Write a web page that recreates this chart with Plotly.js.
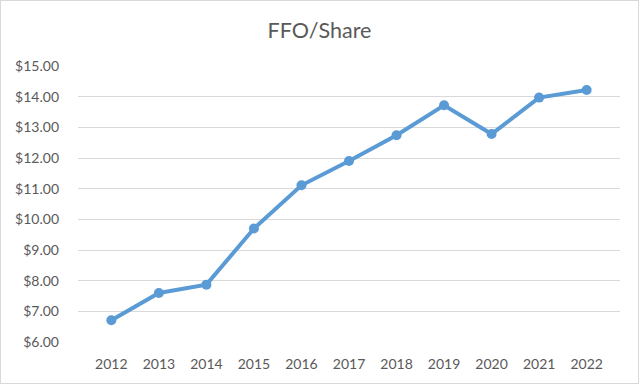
<!DOCTYPE html>
<html><head><meta charset="utf-8">
<script src="https://cdn.plot.ly/plotly-3.0.1.min.js"></script>
<style>
html,body{margin:0;padding:0;background:#fff;}
#wrap{width:639px;height:384px;box-sizing:border-box;border:1px solid #D9D9D9;}
#chart{width:637px;height:382px;}
</style></head>
<body><div id="wrap"><div id="chart"></div></div>
<script>
const years = ["2012","2013","2014","2015","2016","2017","2018","2019","2020","2021","2022"];
const ffoPerShare = [6.71, 7.60, 7.87, 9.70, 11.11, 11.90, 12.74, 13.72, 12.78, 13.97, 14.22];
const yTickVals = [6,7,8,9,10,11,12,13,14,15];

Plotly.newPlot('chart', [{
  type: 'scatter', mode: 'lines+markers',
  x: years, y: ffoPerShare,
  line: {color: '#5B9BD5', width: 4},
  marker: {color: '#5B9BD5', size: 10},
  hoverinfo: 'skip'
}], {
  width: 637, height: 382,
  margin: {l: 77, r: 18, t: 65, b: 41},
  paper_bgcolor: '#fff', plot_bgcolor: '#fff',
  font: {family: 'Lato, sans-serif', color: '#595959', size: 14},
  title: {text: 'FFO/Share', font: {size: 21.5, color: '#595959', family: 'Lato, sans-serif'}, x: 0.5, xanchor: 'center', y: 0.923, yanchor: 'middle'},
  showlegend: false,
  xaxis: {type: 'category', showgrid: false, zeroline: false, showline: false, ticks: '', tickfont: {size: 14, color: '#595959'}, ticklabelstandoff: 12},
  yaxis: {range: [6, 15], tickvals: yTickVals, tickformat: '$.2f', showgrid: true, gridcolor: '#D9D9D9', gridwidth: 1, zeroline: false, showline: false, ticks: '', tickfont: {size: 14, color: '#595959'}, ticklabelstandoff: 18}
}, {displayModeBar: false, staticPlot: true});
</script></body></html>
